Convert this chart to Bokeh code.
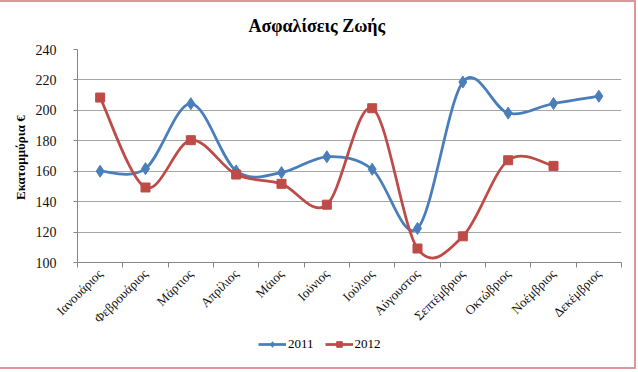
from bokeh.plotting import figure
from bokeh.layouts import column
from bokeh.models import (FixedTicker, Legend, LegendItem, ColumnDataSource, Range1d, Title)
from bokeh.embed import file_html
from bokeh.resources import INLINE

months = ["Ιανουάριος", "Φεβρουάριος", "Μάρτιος", "Απρίλιος", "Μάιος", "Ιούνιος",
          "Ιούλιος", "Αύγουστος", "Σεπτέμβριος", "Οκτώβριος", "Νοέμβριος", "Δεκέμβριος"]
v2011 = [160, 161.7, 204.4, 160.2, 159.1, 169.5, 161.3, 122.4, 218.6, 198.2, 204.5, 209.3]
v2012 = [208.4, 149.3, 180.4, 157.8, 151.7, 138.0, 201.4, 109.2, 117.2, 167.2, 163.5]
y_ticks = [100, 120, 140, 160, 180, 200, 220, 240]
series_names = ["2011", "2012"]

BLUE = "#4A7EBB"
RED = "#BE4B48"
FONT = "Liberation Serif"
PINK = "#d9999a"


def smooth_segments(vals):
    """Cubic Bezier segments through the points (Excel-like smoothing)."""
    n = len(vals)
    xs = list(range(n))
    d = dict(x0=[], y0=[], x1=[], y1=[], cx0=[], cy0=[], cx1=[], cy1=[])
    for i in range(n - 1):
        pm = i - 1 if i > 0 else i
        pp = i + 2 if i + 2 < n else i + 1
        d["x0"].append(xs[i]); d["y0"].append(vals[i])
        d["x1"].append(xs[i + 1]); d["y1"].append(vals[i + 1])
        d["cx0"].append(xs[i] + (xs[i + 1] - xs[pm]) / 6.0)
        d["cy0"].append(vals[i] + (vals[i + 1] - vals[pm]) / 6.0)
        d["cx1"].append(xs[i + 1] - (xs[pp] - xs[i]) / 6.0)
        d["cy1"].append(vals[i + 1] - (vals[pp] - vals[i]) / 6.0)
    return ColumnDataSource(d)


p = figure(width=638, height=334, output_backend="svg", toolbar_location=None,
           x_range=Range1d(-0.5, len(months) - 0.5), y_range=Range1d(100, 240),
           min_border_left=77, min_border_right=17, min_border_top=48, min_border_bottom=71)
p.outline_line_color = None
p.background_fill_color = "white"
p.border_fill_color = None

title = Title(text="Ασφαλίσεις Ζωής", align="left", offset=171,
              text_font=FONT, text_font_size="18px", text_font_style="bold",
              text_color="#000000", standoff=27)
p.add_layout(title, "above")

# x axis
p.xaxis.ticker = FixedTicker(ticks=list(range(len(months))),
                             minor_ticks=[i - 0.5 for i in range(len(months) + 1)])
p.xaxis.major_label_overrides = {i: m for i, m in enumerate(months)}
p.xaxis.major_label_orientation = 0.785398
p.xaxis.major_tick_out = 0
p.xaxis.major_tick_in = 0
p.xaxis.minor_tick_out = 5
p.xaxis.minor_tick_in = 0
p.xaxis.minor_tick_line_color = "#868686"
p.xaxis.axis_line_color = "#868686"
p.xaxis.major_label_text_font = FONT
p.xaxis.major_label_text_font_size = "13px"
p.xaxis.major_label_text_color = "#111111"
p.xaxis.major_label_standoff = 4
p.xgrid.visible = False

# y axis
p.yaxis.ticker = FixedTicker(ticks=y_ticks, minor_ticks=[])
p.yaxis.axis_label = "Εκατομμύρια  €"
p.yaxis.axis_label_text_font = FONT
p.yaxis.axis_label_text_font_size = "13px"
p.yaxis.axis_label_text_font_style = "bold"
p.yaxis.axis_label_text_color = "#000000"
p.yaxis.axis_label_standoff = 5
p.yaxis.major_label_text_font = FONT
p.yaxis.major_label_text_font_size = "14px"
p.yaxis.major_label_text_color = "#111111"
p.yaxis.major_tick_out = 4
p.yaxis.major_tick_in = 0
p.yaxis.major_label_standoff = 17
p.yaxis.major_tick_line_color = "#868686"
p.yaxis.axis_line_color = "#868686"
p.ygrid.grid_line_color = "#a6a6a6"
p.ygrid.grid_line_width = 1

# series 2011
s11 = smooth_segments(v2011)
p.bezier(x0="x0", y0="y0", x1="x1", y1="y1", cx0="cx0", cy0="cy0", cx1="cx1", cy1="cy1",
         source=s11, line_color=BLUE, line_width=2.75)
p.scatter(x=list(range(len(v2011))), y=v2011, marker="diamond", size=12,
          fill_color=BLUE, line_color=BLUE)

# series 2012
s12 = smooth_segments(v2012)
p.bezier(x0="x0", y0="y0", x1="x1", y1="y1", cx0="cx0", cy0="cy0", cx1="cx1", cy1="cy1",
         source=s12, line_color=RED, line_width=2.75)
p.scatter(x=list(range(len(v2012))), y=v2012, marker="square", size=9,
          fill_color=RED, line_color=RED)

# legend strip (separate figure so the legend sits below the axis labels)
lg = figure(width=638, height=38, output_backend="svg", toolbar_location=None,
            x_range=Range1d(0, 1), y_range=Range1d(0, 1), min_border=0)
lg.axis.visible = False
lg.grid.visible = False
lg.outline_line_color = None
lg.border_fill_color = None
lg.background_fill_color = None
# the series themselves, outside this strip's visible range: only their legend samples show
l11 = lg.line(x=list(range(len(v2011))), y=v2011, line_color=BLUE, line_width=2.75)
m11 = lg.scatter(x=list(range(len(v2011))), y=v2011, marker="diamond", size=11,
                 fill_color=BLUE, line_color=BLUE)
l12 = lg.line(x=list(range(len(v2012))), y=v2012, line_color=RED, line_width=2.75)
m12 = lg.scatter(x=list(range(len(v2012))), y=v2012, marker="square", size=9,
                 fill_color=RED, line_color=RED)

legend = Legend(items=[LegendItem(label=series_names[0], renderers=[l11, m11]),
                       LegendItem(label=series_names[1], renderers=[l12, m12])],
                orientation="horizontal", location=(181, 20),
                label_text_font=FONT, label_text_font_size="13px", label_text_color="#000000",
                glyph_width=28, glyph_height=14, label_standoff=2, spacing=11,
                background_fill_alpha=0, border_line_color=None, padding=0, margin=0)
lg.add_layout(legend, "center")

layout = column(p, lg, spacing=0)
grad = f"linear-gradient({PINK}, {PINK})"
layout.styles = {"background": (f"{grad} 0px 0px / 636px 2px no-repeat, "
                                f"{grad} 634px 0px / 2px 369px no-repeat, "
                                f"{grad} 0px 367px / 636px 2px no-repeat, white")}

open("out.html", "w").write(file_html(layout, INLINE))
